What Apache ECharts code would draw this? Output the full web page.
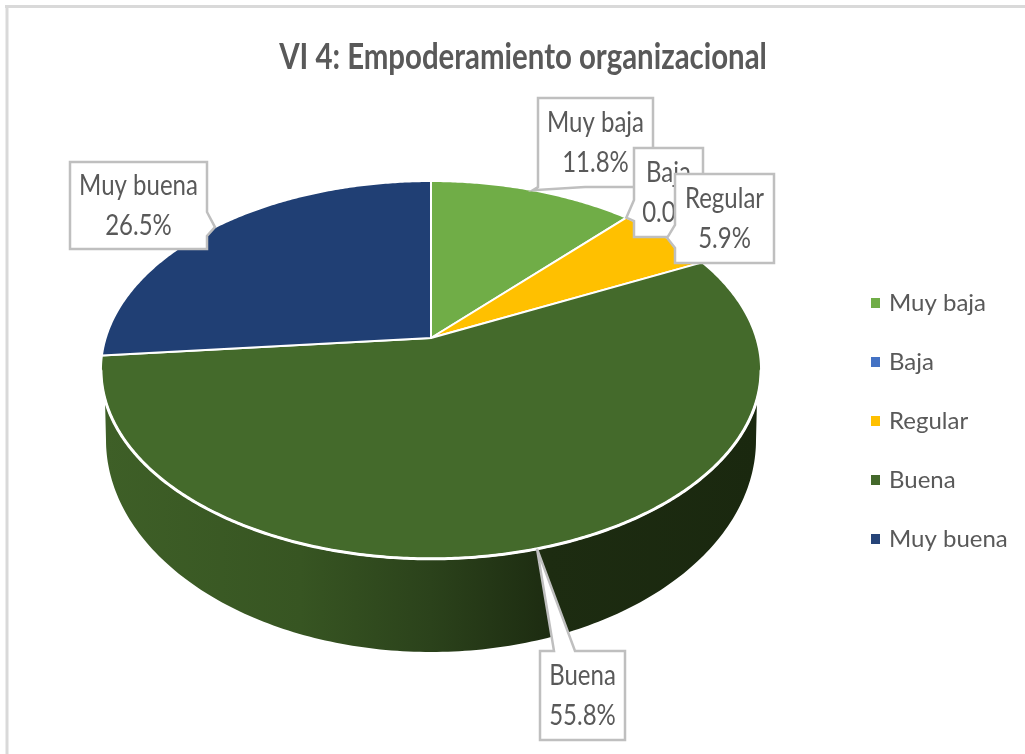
<!DOCTYPE html>
<html>
<head>
<meta charset="utf-8">
<style>html,body{margin:0;padding:0;background:#fff}#c{width:1025px;height:754px}</style>
<script src="https://cdn.jsdelivr.net/npm/echarts@6/dist/echarts.min.js"></script>
</head>
<body>
<div id="c"></div>
<script>
const titleText = 'VI 4: Empoderamiento organizacional';
const categories = ['Muy baja', 'Baja', 'Regular', 'Buena', 'Muy buena'];
const values = [11.8, 0.0, 5.9, 55.8, 26.5];
const faceColors = ['#70AD47', '#4472C4', '#FFC000', '#446A2B', '#203F74'];
const legendColors = ['#70AD47', '#4472C4', '#FFC000', '#43682B', '#264478'];

const FONT = 'Lato, "Liberation Sans", sans-serif';
const TEXT = '#595959';
const total = values.reduce((a, b) => a + b, 0);
const starts = [];
values.reduce((acc, v, i) => { starts[i] = acc; return acc + v; }, 0);
const toDeg = v => v / total * 360;

// perspective projection of the pie's circular top onto the screen
const APEX = { x: 431, y: 338 }, K = 325.3, A = 126.4, C = 0.169;
function project(deg) {
  const r = deg * Math.PI / 180, u = Math.sin(r), v = -Math.cos(r), d = 1 - C * v;
  return [APEX.x + K * u / d, (A * v + APEX.y) / d];
}
// label boxes: left, top, right, bottom + the callout base on one side
const boxes = [
  { l: 538, t: 98,  r: 653, b: 187, side: 'b', p: 538, q: 585 },
  { l: 634, t: 148, r: 703, b: 237, side: 'l', p: 200, q: 221 },
  { l: 675, t: 174, r: 774, b: 263, side: 'l', p: 225, q: 248 },
  { l: 540, t: 651, r: 625, b: 740, side: 't', p: 554, q: 575 },
  { l: 70,  t: 162, r: 207, b: 249, side: 'r', p: 212, q: 236 }
];
function calloutPoints(b, tip) {
  if (b.side === 'b') return [[b.l,b.t],[b.r,b.t],[b.r,b.b],[b.q,b.b],tip,[b.p,b.b],[b.l,b.b]];
  if (b.side === 'l') return [[b.l,b.t],[b.r,b.t],[b.r,b.b],[b.l,b.b],[b.l,b.q],tip,[b.l,b.p]];
  if (b.side === 't') return [[b.l,b.t],[b.p,b.t],tip,[b.q,b.t],[b.r,b.t],[b.r,b.b],[b.l,b.b]];
  return [[b.l,b.t],[b.r,b.t],[b.r,b.p],tip,[b.r,b.q],[b.r,b.b],[b.l,b.b]];
}
function wallPoints() {
  const pts = [[757, 400]];
  for (let a = 0; a <= 180; a += 1) {
    const r = a * Math.PI / 180;
    pts.push([431 + 325 * Math.cos(r), 440 + 212 * Math.sin(r)]);
  }
  pts.push([105, 400]);
  return pts;
}
function rimPoints() {
  const pts = [];
  for (let a = 100; a <= 260; a += 0.5) pts.push(project(a));
  return pts;
}
function makeRender(i) {
  return function (params, api) {
    const v = api.value(0);
    const from = toDeg(starts[i]), to = from + toDeg(v);
    const children = [];
    if (categories[i] === 'Buena') {
      children.push({
        type: 'polygon', z2: 0, shape: { points: wallPoints() },
        style: { lineWidth: 0, fill: { type: 'linear', x: 0, y: 0, x2: 1, y2: 0, colorStops: [
          { offset: 0, color: '#3E5F27' }, { offset: 0.3, color: '#375522' },
          { offset: 0.5, color: '#2B421B' }, { offset: 0.68, color: '#1D2C11' }, { offset: 1, color: '#1A280F' }
        ] } }
      });
    }
    if (v > 0) {
      const pts = [[APEX.x, APEX.y]];
      for (let a = from; a < to; a += 0.5) pts.push(project(a));
      pts.push(project(to));
      children.push({
        type: 'polygon', z2: 1, shape: { points: pts },
        style: { fill: faceColors[i], stroke: '#fff', lineWidth: 2, lineJoin: 'round' }
      });
    }
    if (categories[i] === 'Buena') {
      children.push({
        type: 'polyline', z2: 2, shape: { points: rimPoints() },
        style: { fill: 'none', stroke: '#fff', lineWidth: 3, lineCap: 'round' }
      });
    }
    const b = boxes[i];
    const tip = project((from + to) / 2);
    const z = 10 + i * 2;
    children.push({
      type: 'polygon', z2: z, shape: { points: calloutPoints(b, tip) },
      style: { fill: '#fff', stroke: '#BFBFBF', lineWidth: 2.5, lineJoin: 'miter' }
    });
    const cx = (b.l + b.r) / 2, cy = (b.t + b.b) / 2;
    children.push({
      type: 'text', z2: z + 1, x: cx, y: cy, scaleY: 1.2,
      style: { text: categories[i] + '\n' + v.toFixed(1) + '%', align: 'center', verticalAlign: 'middle',
        font: '24px ' + FONT, lineHeight: 33, fill: TEXT }
    });
    return { type: 'group', children };
  };
}
const chart = echarts.init(document.getElementById('c'), null, { renderer: 'canvas' });
chart.setOption({
  animation: false,
  backgroundColor: '#fff',
  legend: {
    orient: 'vertical', left: 866, top: 286, itemWidth: 9, itemHeight: 10, itemGap: 35, icon: 'rect',
    data: categories, selectedMode: false,
    textStyle: { fontFamily: FONT, fontSize: 24, color: TEXT, padding: [0, 0, 0, 4] }
  },
  graphic: [
    { type: 'line', shape: { x1: 5, y1: 6.5, x2: 1025, y2: 6.5 }, style: { stroke: '#D9D9D9', lineWidth: 3 }, silent: true },
    { type: 'line', shape: { x1: 7, y1: 5, x2: 7, y2: 754 }, style: { stroke: '#D9D9D9', lineWidth: 3 }, silent: true },
    { type: 'text', x: 523, y: 58, scaleY: 1.2, silent: true,
      style: { text: titleText, align: 'center', verticalAlign: 'middle',
        font: 'bold 29.4px ' + FONT, fill: TEXT } }
  ],
  series: categories.map((name, i) => ({
    type: 'custom', name, coordinateSystem: 'none', silent: true,
    itemStyle: { color: legendColors[i] },
    data: [[values[i]]],
    renderItem: makeRender(i)
  }))
});
</script>
</body>
</html>
